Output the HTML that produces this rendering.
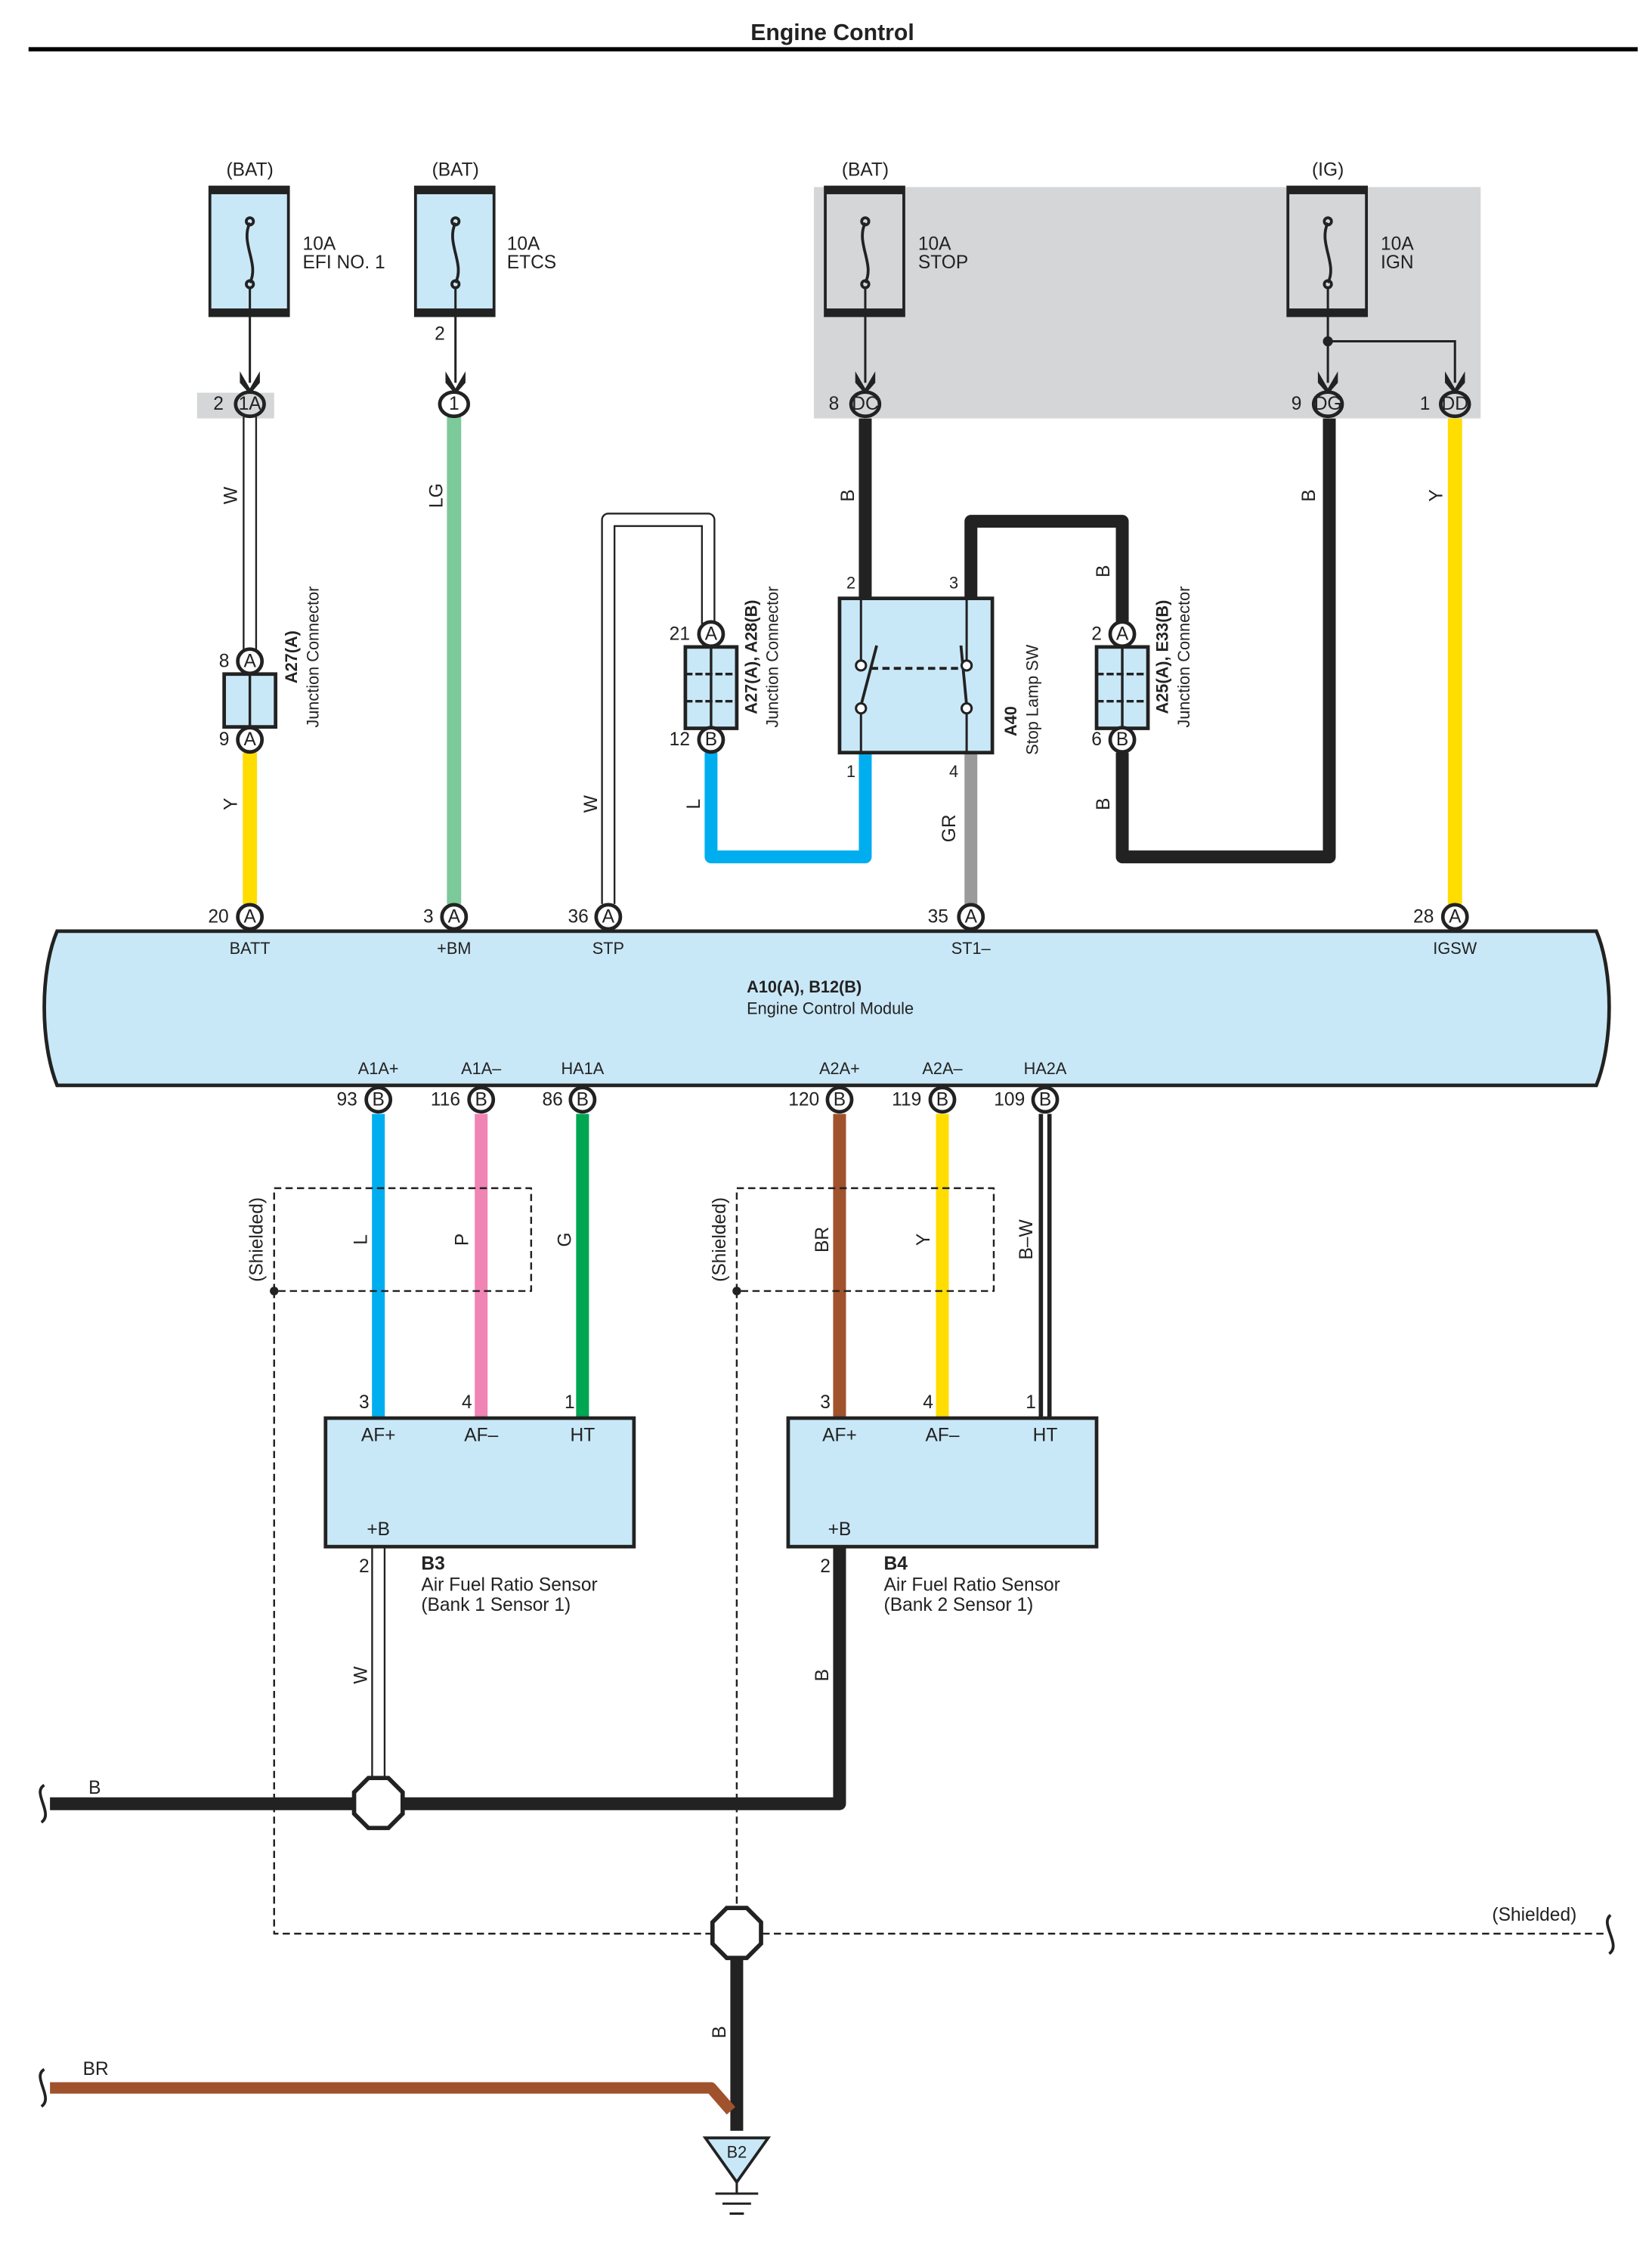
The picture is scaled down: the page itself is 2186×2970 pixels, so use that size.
<!DOCTYPE html>
<html><head><meta charset="utf-8"><style>
html,body{margin:0;padding:0;background:#fff}
svg{display:block}
text{font-family:"Liberation Sans",sans-serif;font-size:13px;fill:#222}
.b{font-weight:bold}
.c{text-anchor:middle}
.pin{font-size:11.5px}
</style></head><body>
<svg width="2186" height="2970" viewBox="0 0 1157 1572" preserveAspectRatio="none" xmlns="http://www.w3.org/2000/svg">
<rect width="1157" height="1572" fill="#fff"/>
<text x="583" y="28" class="b c" style="font-size:16px">Engine Control</text>
<rect x="20" y="33" width="1127" height="3" fill="#000"/>

<!-- gray box -->
<rect x="570" y="131" width="467" height="162" fill="#d4d6d8"/>
<rect x="138" y="275" width="54" height="18" fill="#d4d6d8"/>

<!-- fuses -->
<g stroke="#222" stroke-width="2">
<rect x="147" y="131" width="55" height="90" fill="#c9e8f7"/>
<rect x="291" y="131" width="55" height="90" fill="#c9e8f7"/>
<rect x="578" y="131" width="55" height="90" fill="none"/>
<rect x="902" y="131" width="55" height="90" fill="none"/>
</g>
<g fill="#222">
<rect x="147" y="131" width="55" height="5"/><rect x="147" y="216" width="55" height="5"/>
<rect x="291" y="131" width="55" height="5"/><rect x="291" y="216" width="55" height="5"/>
<rect x="578" y="131" width="55" height="5"/><rect x="578" y="216" width="55" height="5"/>
<rect x="902" y="131" width="55" height="5"/><rect x="902" y="216" width="55" height="5"/>
</g>
<g fill="none" stroke="#222" stroke-width="2">
<path d="M175 156 C168 170,182 185,175 198"/><circle cx="175" cy="155" r="2.5"/><circle cx="175" cy="199" r="2.5"/>
<path d="M319 156 C312 170,326 185,319 198"/><circle cx="319" cy="155" r="2.5"/><circle cx="319" cy="199" r="2.5"/>
<path d="M606 156 C599 170,613 185,606 198"/><circle cx="606" cy="155" r="2.5"/><circle cx="606" cy="199" r="2.5"/>
<path d="M930 156 C923 170,937 185,930 198"/><circle cx="930" cy="155" r="2.5"/><circle cx="930" cy="199" r="2.5"/>
</g>
<text x="175" y="123" class="c">(BAT)</text><text x="319" y="123" class="c">(BAT)</text>
<text x="606" y="123" class="c">(BAT)</text><text x="930" y="123" class="c">(IG)</text>
<text x="212" y="175">10A</text><text x="212" y="188">EFI NO. 1</text>
<text x="355" y="175">10A</text><text x="355" y="188">ETCS</text>
<text x="643" y="175">10A</text><text x="643" y="188">STOP</text>
<text x="967" y="175">10A</text><text x="967" y="188">IGN</text>

<!-- fuse output lines and arrows -->
<g stroke="#222" stroke-width="1.6" fill="none">
<path d="M175 201 V268"/><path d="M319 201 V268"/><path d="M606 201 V268"/><path d="M930 201 V268"/>
<path d="M930 239 H1019 V268"/>
</g>
<circle cx="930" cy="239" r="3.5" fill="#222"/>
<g fill="#222">
<path d="M168 260 L175 272 L182 260 L182 268 L175 276 L168 268Z"/>
<path d="M312 260 L319 272 L326 260 L326 268 L319 276 L312 268Z"/>
<path d="M599 260 L606 272 L613 260 L613 268 L606 276 L599 268Z"/>
<path d="M923 260 L930 272 L937 260 L937 268 L930 276 L923 268Z"/>
<path d="M1012 260 L1019 272 L1026 260 L1026 268 L1019 276 L1012 268Z"/>
</g>
<text x="308" y="238" class="c">2</text>

<!-- wires -->
<g fill="none" stroke-linejoin="round">
<!-- W 1A -->
<path d="M175 292 V455" stroke="#222" stroke-width="10"/><path d="M175 292 V455" stroke="#fff" stroke-width="7.5"/>
<path d="M175 527 V633" stroke="#ffdd00" stroke-width="10"/>
<path d="M318 292 V633" stroke="#7cc99a" stroke-width="10"/>
<!-- W STP -->
<path d="M426 633 V364 H496 V437" stroke="#222" stroke-width="10"/><path d="M426 633 V364 H496 V437" stroke="#fff" stroke-width="7.5"/>
<path d="M498 527 V600 H606 V527" stroke="#00aeef" stroke-width="9"/>
<path d="M606 293 V419" stroke="#222" stroke-width="9"/>
<path d="M680 419 V365 H786 V437" stroke="#222" stroke-width="9"/>
<path d="M786 527 V600 H931 V293" stroke="#222" stroke-width="9"/>
<path d="M680 527 V633" stroke="#9a9a9a" stroke-width="9"/>
<path d="M1019 293 V633" stroke="#ffdd00" stroke-width="10"/>
<!-- lower -->
<path d="M265 780 V993" stroke="#00aeef" stroke-width="9"/>
<path d="M337 780 V993" stroke="#f084b4" stroke-width="9"/>
<path d="M408 780 V993" stroke="#00a651" stroke-width="9"/>
<path d="M588 780 V993" stroke="#a0522d" stroke-width="9"/>
<path d="M660 780 V993" stroke="#ffdd00" stroke-width="9"/>
<path d="M732 780 V993" stroke="#222" stroke-width="9"/><path d="M732 780 V993" stroke="#fff" stroke-width="3"/>
<path d="M265 1083 V1246" stroke="#222" stroke-width="10"/><path d="M265 1083 V1246" stroke="#fff" stroke-width="7.5"/>
<path d="M588 1083 V1263 H35" stroke="#222" stroke-width="9"/>
<path d="M516 1372 V1492" stroke="#222" stroke-width="9"/>
<path d="M35 1462 H498 L512 1478" stroke="#a0522d" stroke-width="8"/>
<!-- shields -->
<g stroke="#222" stroke-width="1.3" stroke-dasharray="5,3">
<rect x="192" y="832" width="180" height="72"/>
<rect x="516" y="832" width="180" height="72"/>
<path d="M192 904 V1354 H498"/><path d="M534 1354 H1125"/>
<path d="M516 904 V1336"/>
</g>
<path d="M31 1250 C22 1255,38 1270,29 1276" stroke="#222" stroke-width="2"/>
<path d="M31 1449 C22 1454,38 1469,29 1475" stroke="#222" stroke-width="2"/>
<path d="M1128 1341 C1120 1347,1136 1362,1127 1368" stroke="#222" stroke-width="2"/>
</g>
<circle cx="192" cy="904" r="3" fill="#222"/><circle cx="516" cy="904" r="3" fill="#222"/>

<!-- wire labels -->
<g class="pin">
<text transform="translate(166,347) rotate(-90)" class="c">W</text>
<text transform="translate(166,563) rotate(-90)" class="c">Y</text>
<text transform="translate(310,347) rotate(-90)" class="c">LG</text>
<text transform="translate(418,563) rotate(-90)" class="c">W</text>
<text transform="translate(490,563) rotate(-90)" class="c">L</text>
<text transform="translate(598,347) rotate(-90)" class="c">B</text>
<text transform="translate(777,400) rotate(-90)" class="c">B</text>
<text transform="translate(777,563) rotate(-90)" class="c">B</text>
<text transform="translate(921,347) rotate(-90)" class="c">B</text>
<text transform="translate(669,580) rotate(-90)" class="c">GR</text>
<text transform="translate(1010,347) rotate(-90)" class="c">Y</text>
<text transform="translate(257,868) rotate(-90)" class="c">L</text>
<text transform="translate(328,868) rotate(-90)" class="c">P</text>
<text transform="translate(400,868) rotate(-90)" class="c">G</text>
<text transform="translate(580,868) rotate(-90)" class="c">BR</text>
<text transform="translate(651,868) rotate(-90)" class="c">Y</text>
<text transform="translate(723,868) rotate(-90)" class="c">B–W</text>
<text transform="translate(184,868) rotate(-90)" class="c">(Shielded)</text>
<text transform="translate(508,868) rotate(-90)" class="c">(Shielded)</text>
<text transform="translate(257,1173) rotate(-90)" class="c">W</text>
<text transform="translate(580,1173) rotate(-90)" class="c">B</text>
<text transform="translate(508,1423) rotate(-90)" class="c">B</text>
<text x="62" y="1256">B</text>
<text x="58" y="1453">BR</text>
<text x="1045" y="1345">(Shielded)</text>
</g>

<!-- junction connectors -->
<g stroke="#222" stroke-width="2.5" fill="#c9e8f7">
<rect x="157" y="472" width="36" height="37"/>
<rect x="480" y="453" width="36" height="57"/>
<rect x="768" y="453" width="36" height="57"/>
</g>
<g stroke="#222" stroke-width="1.8">
<path d="M175 472 V509"/>
<path d="M498 453 V510"/><path d="M480 472 H516 M480 491 H516" stroke-dasharray="5,2"/>
<path d="M786 453 V510"/><path d="M768 472 H804 M768 491 H804" stroke-dasharray="5,2"/>
</g>
<text transform="translate(208,460) rotate(-90)" class="b c pin">A27(A)</text>
<text transform="translate(223,460) rotate(-90)" class="c pin">Junction Connector</text>
<text transform="translate(530,460) rotate(-90)" class="b c pin">A27(A), A28(B)</text>
<text transform="translate(545,460) rotate(-90)" class="c pin">Junction Connector</text>
<text transform="translate(818,460) rotate(-90)" class="b c pin">A25(A), E33(B)</text>
<text transform="translate(833,460) rotate(-90)" class="c pin">Junction Connector</text>

<!-- switch -->
<rect x="588" y="419" width="107" height="108" fill="#c9e8f7" stroke="#222" stroke-width="2.5"/>
<g stroke="#222" stroke-width="1.6" fill="#fff">
<path d="M603 419 V462 M603 494 V527 M677 419 V462 M677 494 V527" fill="none"/>
<path d="M603 494 L614 452 M677 494 L673 452" fill="none" stroke-width="2"/>
<path d="M610 468 H675" stroke-dasharray="5,3" fill="none" stroke-width="2"/>
<circle cx="603" cy="466" r="3.5"/><circle cx="603" cy="496" r="3.5"/>
<circle cx="677" cy="466" r="3.5"/><circle cx="677" cy="496" r="3.5"/>
</g>
<text x="596" y="412" class="c pin">2</text><text x="668" y="412" class="c pin">3</text>
<text x="596" y="544" class="c pin">1</text><text x="668" y="544" class="c pin">4</text>
<text transform="translate(712,505) rotate(-90)" class="b c pin">A40</text>
<text transform="translate(727,490) rotate(-90)" class="c pin">Stop Lamp SW</text>

<!-- ECM -->
<path d="M40 652 H1118 C1130 680,1130 730,1118 760 H40 C28 730,28 680,40 652 Z" fill="#c9e8f7" stroke="#222" stroke-width="2.5"/>
<text x="175" y="668" class="c pin">BATT</text><text x="318" y="668" class="c pin">+BM</text>
<text x="426" y="668" class="c pin">STP</text><text x="680" y="668" class="c pin">ST1–</text>
<text x="1019" y="668" class="c pin">IGSW</text>
<text x="523" y="695" class="b pin">A10(A), B12(B)</text>
<text x="523" y="710" class="pin">Engine Control Module</text>
<text x="265" y="752" class="c pin">A1A+</text><text x="337" y="752" class="c pin">A1A–</text>
<text x="408" y="752" class="c pin">HA1A</text><text x="588" y="752" class="c pin">A2A+</text>
<text x="660" y="752" class="c pin">A2A–</text><text x="732" y="752" class="c pin">HA2A</text>

<!-- sensors -->
<rect x="228" y="993" width="216" height="90" fill="#c9e8f7" stroke="#222" stroke-width="2.5"/>
<rect x="552" y="993" width="216" height="90" fill="#c9e8f7" stroke="#222" stroke-width="2.5"/>
<g class="pin">
<text x="255" y="986" class="c">3</text><text x="327" y="986" class="c">4</text><text x="399" y="986" class="c">1</text>
<text x="578" y="986" class="c">3</text><text x="650" y="986" class="c">4</text><text x="722" y="986" class="c">1</text>
<text x="265" y="1009" class="c">AF+</text><text x="337" y="1009" class="c">AF–</text><text x="408" y="1009" class="c">HT</text>
<text x="588" y="1009" class="c">AF+</text><text x="660" y="1009" class="c">AF–</text><text x="732" y="1009" class="c">HT</text>
<text x="265" y="1075" class="c">+B</text><text x="588" y="1075" class="c">+B</text>
<text x="255" y="1101" class="c">2</text><text x="578" y="1101" class="c">2</text>
<text x="295" y="1099" class="b">B3</text><text x="295" y="1114">Air Fuel Ratio Sensor</text><text x="295" y="1128">(Bank 1 Sensor 1)</text>
<text x="619" y="1099" class="b">B4</text><text x="619" y="1114">Air Fuel Ratio Sensor</text><text x="619" y="1128">(Bank 2 Sensor 1)</text>
</g>

<!-- octagons -->
<polygon points="258,1245 272,1245 282,1255 282,1270 272,1280 258,1280 248,1270 248,1255" fill="#fff" stroke="#222" stroke-width="3"/>
<polygon points="509,1336 523,1336 533,1346 533,1361 523,1371 509,1371 499,1361 499,1346" fill="#fff" stroke="#222" stroke-width="3"/>

<!-- ground -->
<polygon points="494,1497 538,1497 516,1528" fill="#c9e8f7" stroke="#222" stroke-width="2"/>
<text x="516" y="1511" class="c pin">B2</text>
<g stroke="#222" stroke-width="1.6">
<path d="M516 1528 V1536 M501 1536 H531 M506 1543 H526 M511 1550 H521"/>
</g>

<!-- connector ovals -->
<g stroke="#222" stroke-width="2.5" fill="#fff">
<ellipse cx="175" cy="283" rx="10" ry="8.5" fill="#d4d6d8"/>
<ellipse cx="318" cy="283" rx="10" ry="8.5"/>
<ellipse cx="606" cy="283" rx="10" ry="8.5" fill="#d4d6d8"/>
<ellipse cx="930" cy="283" rx="10" ry="8.5" fill="#d4d6d8"/>
<ellipse cx="1019" cy="283" rx="10" ry="8.5" fill="#d4d6d8"/>
<ellipse cx="175" cy="463" rx="8.5" ry="8.5"/><ellipse cx="175" cy="518" rx="8.5" ry="8.5"/>
<ellipse cx="498" cy="444" rx="8.5" ry="8.5"/><ellipse cx="498" cy="518" rx="8.5" ry="8.5"/>
<ellipse cx="786" cy="444" rx="8.5" ry="8.5"/><ellipse cx="786" cy="518" rx="8.5" ry="8.5"/>
<ellipse cx="175" cy="642" rx="8.5" ry="8.5"/><ellipse cx="318" cy="642" rx="8.5" ry="8.5"/>
<ellipse cx="426" cy="642" rx="8.5" ry="8.5"/><ellipse cx="680" cy="642" rx="8.5" ry="8.5"/>
<ellipse cx="1019" cy="642" rx="8.5" ry="8.5"/>
<ellipse cx="265" cy="770" rx="8.5" ry="8.5"/><ellipse cx="337" cy="770" rx="8.5" ry="8.5"/>
<ellipse cx="408" cy="770" rx="8.5" ry="8.5"/><ellipse cx="588" cy="770" rx="8.5" ry="8.5"/>
<ellipse cx="660" cy="770" rx="8.5" ry="8.5"/><ellipse cx="732" cy="770" rx="8.5" ry="8.5"/>
</g>
<g class="pin" style="font-size:11px">
<text x="175" y="287" class="c">1A</text><text x="153" y="287" class="c">2</text>
<text x="318" y="287" class="c">1</text>
<text x="606" y="287" class="c">DC</text><text x="584" y="287" class="c">8</text>
<text x="930" y="287" class="c">DG</text><text x="908" y="287" class="c">9</text>
<text x="1019" y="287" class="c">DD</text><text x="998" y="287" class="c">1</text>
<text x="175" y="467" class="c">A</text><text x="157" y="467" class="c">8</text>
<text x="175" y="522" class="c">A</text><text x="157" y="522" class="c">9</text>
<text x="498" y="448" class="c">A</text><text x="476" y="448" class="c">21</text>
<text x="498" y="522" class="c">B</text><text x="476" y="522" class="c">12</text>
<text x="786" y="448" class="c">A</text><text x="768" y="448" class="c">2</text>
<text x="786" y="522" class="c">B</text><text x="768" y="522" class="c">6</text>
<text x="175" y="646" class="c">A</text><text x="153" y="646" class="c">20</text>
<text x="318" y="646" class="c">A</text><text x="300" y="646" class="c">3</text>
<text x="426" y="646" class="c">A</text><text x="405" y="646" class="c">36</text>
<text x="680" y="646" class="c">A</text><text x="657" y="646" class="c">35</text>
<text x="1019" y="646" class="c">A</text><text x="997" y="646" class="c">28</text>
<text x="265" y="774" class="c">B</text><text x="243" y="774" class="c">93</text>
<text x="337" y="774" class="c">B</text><text x="312" y="774" class="c">116</text>
<text x="408" y="774" class="c">B</text><text x="387" y="774" class="c">86</text>
<text x="588" y="774" class="c">B</text><text x="563" y="774" class="c">120</text>
<text x="660" y="774" class="c">B</text><text x="635" y="774" class="c">119</text>
<text x="732" y="774" class="c">B</text><text x="707" y="774" class="c">109</text>
</g>
</svg>
</body></html>
